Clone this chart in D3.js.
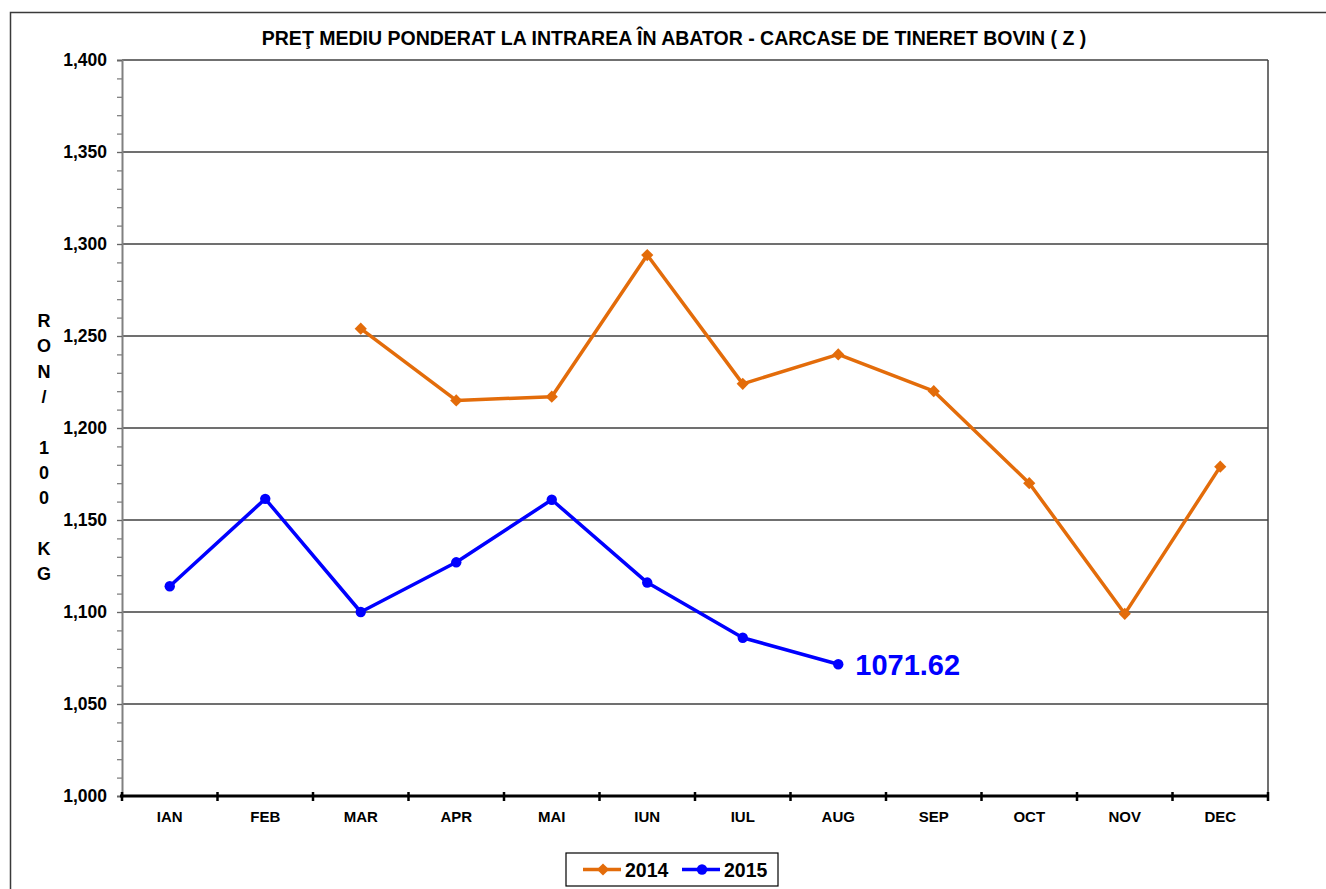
<!DOCTYPE html>
<html>
<head>
<meta charset="utf-8">
<script src="https://cdn.jsdelivr.net/npm/d3@7"></script>
<style>
  body { margin: 0; background: #fff; }
  svg { display: block; font-family: "Liberation Sans", Arial, sans-serif; }
</style>
</head>
<body>
<div id="chart"></div>
<script>
const months = ["IAN", "FEB", "MAR", "APR", "MAI", "IUN", "IUL", "AUG", "SEP", "OCT", "NOV", "DEC"];
const values2014 = [null, null, 1254, 1215, 1217, 1294, 1224, 1240, 1220, 1170, 1099, 1179];
const values2015 = [1114, 1161.5, 1100, 1127, 1161, 1116, 1086, 1071.62, null, null, null, null];
const yTicks = [1000, 1050, 1100, 1150, 1200, 1250, 1300, 1350, 1400];
const yLabelChars = ["R", "O", "N", "/", "", "1", "0", "0", "", "K", "G"];
const title = "PREŢ MEDIU PONDERAT LA INTRAREA ÎN ABATOR - CARCASE DE TINERET BOVIN ( Z )";
const lastLabel = "1071.62";

const W = 1326, H = 889;
const plot = {left: 122, right: 1268, top: 60, bottom: 796};
const orange = "#E36C0A", blue = "#0000FF";

const svg = d3.select("#chart")
    .append("svg")
    .attr("width", W)
    .attr("height", H);

// outer frame (runs off the right and bottom edges)
svg.append("rect")
    .attr("x", 10.5).attr("y", 12.5)
    .attr("width", W + 20).attr("height", H + 20)
    .attr("fill", "none")
    .attr("stroke", "#3a3a3a")
    .attr("stroke-width", 1.5);

svg.append("text")
    .attr("x", 674).attr("y", 45)
    .attr("text-anchor", "middle")
    .style("font-weight", "bold")
    .style("font-size", "19.5px")
    .text(title);

const x = d3.scaleBand()
    .domain(months)
    .range([plot.left, plot.right])
    .padding(0);

const y = d3.scaleLinear()
    .domain([1000, 1400])
    .range([plot.bottom, plot.top]);

// gridlines
svg.append("g")
    .selectAll("line")
    .data(yTicks.filter(d => d > 1000))
    .enter()
    .append("line")
    .attr("x1", plot.left).attr("x2", plot.right)
    .attr("y1", d => y(d)).attr("y2", d => y(d))
    .attr("stroke", "#404040")
    .attr("stroke-width", 1.5);

// right border
svg.append("line")
    .attr("x1", plot.right).attr("x2", plot.right)
    .attr("y1", plot.top).attr("y2", plot.bottom)
    .attr("stroke", "#404040")
    .attr("stroke-width", 1.5);

// minor ticks every 10
const minorAxis = svg.append("g")
    .attr("transform", `translate(${plot.left},0)`)
    .call(d3.axisLeft(y).tickValues(d3.range(1000, 1401, 10)).tickSize(5).tickFormat(""));
minorAxis.select(".domain").remove();
minorAxis.selectAll("line").attr("stroke", "#777").attr("stroke-width", 1.2);

// major y axis
const yAxis = svg.append("g")
    .attr("transform", `translate(${plot.left},0)`)
    .call(d3.axisLeft(y).tickValues(yTicks).tickSize(5).tickPadding(10).tickFormat(d3.format(",")));
yAxis.select(".domain").attr("stroke", "#808080").attr("stroke-width", 2);
yAxis.selectAll("line").attr("stroke", "#666").attr("stroke-width", 1.2);
yAxis.selectAll("text")
    .style("font-size", "17.5px")
    .style("font-weight", "bold")
    .attr("fill", "#000");

// y title, one letter per line
svg.append("g")
    .selectAll("text")
    .data(yLabelChars)
    .enter()
    .append("text")
    .attr("x", 44)
    .attr("y", (d, i) => 327 + i * 25.3)
    .attr("text-anchor", "middle")
    .style("font-size", "18px")
    .style("font-weight", "bold")
    .text(d => d);

// x axis
const xAxis = svg.append("g")
    .attr("transform", `translate(0,${plot.bottom})`)
    .call(d3.axisBottom(x).tickSize(0).tickPadding(15));
xAxis.select(".domain").remove();
xAxis.selectAll("text")
    .style("font-size", "15px")
    .style("font-weight", "bold")
    .attr("fill", "#000");

svg.append("line")
    .attr("x1", plot.left - 2).attr("x2", plot.right + 1)
    .attr("y1", plot.bottom).attr("y2", plot.bottom)
    .attr("stroke", "#000")
    .attr("stroke-width", 3);

const boundaries = months.map(m => x(m)).concat([x(months[months.length - 1]) + x.bandwidth()]);
svg.append("g")
    .selectAll("line")
    .data(boundaries)
    .enter()
    .append("line")
    .attr("x1", d => d).attr("x2", d => d)
    .attr("y1", plot.bottom - 4).attr("y2", plot.bottom + 5)
    .attr("stroke", "#000")
    .attr("stroke-width", 2.5);

const cx = (d, i) => x(months[i]) + x.bandwidth() / 2;

const line = d3.line()
    .defined(d => d != null)
    .x(cx)
    .y(d => y(d));

function drawSeries(vals, color, shape) {
    svg.append("path")
        .datum(vals)
        .attr("fill", "none")
        .attr("stroke", color)
        .attr("stroke-width", 3.5)
        .attr("stroke-linejoin", "round")
        .attr("d", line);

    const pts = vals.map((v, i) => ({v, i})).filter(p => p.v != null);
    svg.append("g")
        .selectAll("path")
        .data(pts)
        .enter()
        .append("path")
        .attr("transform", p => `translate(${cx(p.v, p.i)},${y(p.v)})`)
        .attr("d", shape)
        .attr("fill", color);
}

const diamond = d3.symbol().type(d3.symbolDiamond2).size(95)();
const circle = d3.symbol().type(d3.symbolCircle).size(85)();

drawSeries(values2014, orange, diamond);
drawSeries(values2015, blue, circle);

// label on last 2015 point
const lastIdx = 7;
svg.append("text")
    .attr("x", cx(values2015[lastIdx], lastIdx) + 17)
    .attr("y", y(values2015[lastIdx]) + 11)
    .attr("fill", blue)
    .style("font-size", "29px")
    .style("font-weight", "bold")
    .text(lastLabel);

// legend
const legend = svg.append("g").attr("transform", "translate(566,853)");
legend.append("rect")
    .attr("width", 212).attr("height", 33)
    .attr("fill", "#fff")
    .attr("stroke", "#000")
    .attr("stroke-width", 1.2);

const legendItems = [
    {name: "2014", color: orange, shape: diamond, x0: 17},
    {name: "2015", color: blue, shape: circle, x0: 116}
];
legendItems.forEach(it => {
    legend.append("line")
        .attr("x1", it.x0).attr("x2", it.x0 + 38)
        .attr("y1", 16.5).attr("y2", 16.5)
        .attr("stroke", it.color)
        .attr("stroke-width", 3.5);
    legend.append("path")
        .attr("transform", `translate(${it.x0 + 20},16.5)`)
        .attr("d", it.shape)
        .attr("fill", it.color);
    legend.append("text")
        .attr("x", it.x0 + 42).attr("y", 24)
        .style("font-size", "19.5px")
        .style("font-weight", "bold")
        .text(it.name);
});
</script>
</body>
</html>
